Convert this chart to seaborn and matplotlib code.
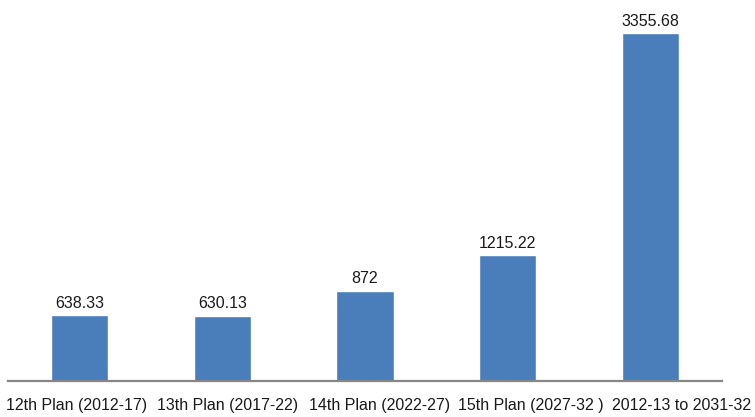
import matplotlib
matplotlib.use("Agg")
import matplotlib.pyplot as plt
import matplotlib.transforms as mtransforms
import seaborn as sns
import pandas as pd

# Plan periods and their totals
plans = [
    "12th Plan (2012-17)",
    "13th Plan (2017-22)",
    "14th Plan (2022-27)",
    "15th Plan (2027-32 )",
    "2012-13 to 2031-32",
]
totals = [638.33, 630.13, 872, 1215.22, 3355.68]
value_labels = ["638.33", "630.13", "872", "1215.22", "3355.68"]

df = pd.DataFrame({"plan": plans, "total": totals})

sns.set_theme(style="white")
plt.rcParams["font.family"] = ["Liberation Sans", "DejaVu Sans"]

fig = plt.figure(figsize=(7.55, 4.17), dpi=100)
ax = fig.add_axes([8 / 755, 1 - 381 / 417, 714 / 755, 381 / 417])

sns.barplot(data=df, x="plan", y="total", color="#4A7EBB", saturation=1,
            width=0.4, ax=ax)

ax.set_ylim(0, 3674)
ax.set_xlim(-0.5, len(plans) - 0.5)

for container in ax.containers:
    ax.bar_label(container, labels=value_labels, padding=3,
                 fontsize=11.5, color="#1a1a1a")

ax.set_xlabel("")
ax.set_ylabel("")
ax.set_yticks([])
for side in ["left", "right", "top"]:
    ax.spines[side].set_visible(False)
ax.spines["bottom"].set_color("#868686")
ax.spines["bottom"].set_linewidth(1.6)
ax.tick_params(axis="x", length=0, pad=12, labelsize=11.5, labelcolor="#1a1a1a")

# Category labels are spread evenly across the full width, slightly wider
# than the bar spacing, so nudge each one outward from the left.
for i, lbl in enumerate(ax.get_xticklabels()):
    shift = (-3 + 8.6 * i) / 100.0
    lbl.set_transform(lbl.get_transform() +
                      mtransforms.ScaledTranslation(shift, 0, fig.dpi_scale_trans))

fig.savefig("out.png", dpi=100)
